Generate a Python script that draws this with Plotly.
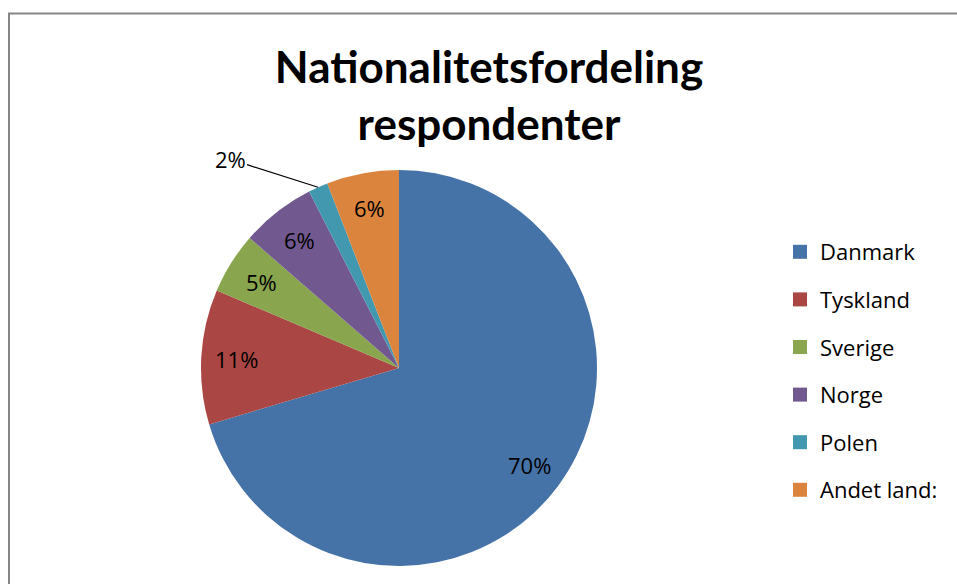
import math
import plotly.graph_objects as go

categories = ["Danmark", "Tyskland", "Sverige", "Norge", "Polen", "Andet land:"]
values = [70.4, 11.0, 5.0, 6.1, 1.6, 5.9]
colors = ["#4572A7", "#AA4643", "#89A54E", "#71588F", "#4198AF", "#DB843D"]
title_text = "Nationalitetsfordeling<br>respondenter"

W, H = 957, 584
FONT = "Open Sans"

# pie geometry (pixels)
cx_px, cy_px, r_px = 399, 368, 198
dom_x = [(cx_px - r_px) / W, (cx_px + r_px) / W]
dom_y = [(H - cy_px - r_px) / H, (H - cy_px + r_px) / H]

total = sum(values)
outside_idx = categories.index("Polen")

fig = go.Figure()
fig.add_trace(go.Pie(
    labels=categories, values=values, sort=False, direction="clockwise", rotation=0,
    marker=dict(colors=colors, line=dict(width=0)),
    textinfo="none",
    domain=dict(x=dom_x, y=dom_y), showlegend=False, hoverinfo="label+percent",
))

# legend entries
for c, col in zip(categories, colors):
    fig.add_trace(go.Scatter(
        x=[None], y=[None], mode="markers", name=c, legendgroup=c,
        marker=dict(symbol="square", size=14, color=col),
    ))

# data labels placed along each slice's mid-angle (Excel-style best fit)
cum = 0.0
for i, v in enumerate(values):
    mid = cum + v / 2
    cum += v
    theta = 2 * math.pi * mid / total
    label = f"{round(v / total * 100)}%"
    if i == outside_idx:
        px = cx_px + r_px * math.sin(theta)
        py = cy_px - r_px * math.cos(theta)
        fig.add_annotation(
            x=px / W, y=1 - py / H, xref="paper", yref="paper", text=label,
            showarrow=True, arrowhead=0, arrowwidth=1.2, arrowcolor="#000000",
            ax=-88, ay=-28, standoff=0,
            font=dict(family=FONT, size=22, color="#000000"),
        )
    else:
        rr = 0.82 * r_px
        px = cx_px + rr * math.sin(theta)
        py = cy_px - rr * math.cos(theta)
        fig.add_annotation(
            x=px / W, y=1 - py / H, xref="paper", yref="paper", text=label,
            showarrow=False, xanchor="center", yanchor="middle",
            font=dict(family=FONT, size=22, color="#000000"),
        )

# chart frame
fig.add_shape(type="rect", xref="paper", yref="paper",
              x0=9 / W, x1=1.02, y0=-0.02, y1=1 - 13.5 / H,
              line=dict(color="#868686", width=2), fillcolor="rgba(0,0,0,0)", layer="below")

fig.update_layout(
    width=W, height=H,
    margin=dict(l=0, r=0, t=0, b=0),
    paper_bgcolor="white", plot_bgcolor="white",
    title=dict(text=title_text, x=489 / W, xanchor="center", y=1 - 83 / H, yanchor="top",
               font=dict(family="Lato", size=44, color="#000000", weight="bold")),
    xaxis=dict(visible=False), yaxis=dict(visible=False),
    legend=dict(x=780 / W, xanchor="left", y=1 - 231 / H, yanchor="top",
                font=dict(family=FONT, size=22, color="#000000"),
                tracegroupgap=16, itemwidth=30, bgcolor="rgba(0,0,0,0)"),
    showlegend=True,
)

fig.write_html("out.html")
